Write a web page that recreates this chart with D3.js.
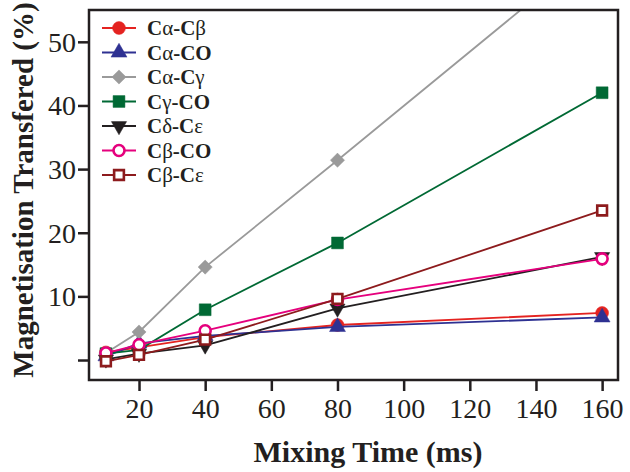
<!DOCTYPE html>
<html>
<head>
<meta charset="utf-8">
<script src="https://cdn.jsdelivr.net/npm/d3@7"></script>
<style>
  body { margin: 0; background: #fff; }
  svg { display: block; font-family: "Liberation Serif", "Times New Roman", serif; }
</style>
</head>
<body>
<svg id="chart"></svg>
<script>
// mixing times (ms)
var mixingTimes = [10, 20, 40, 80, 160];

var seriesNames = ["Cα-Cβ", "Cα-CO", "Cα-Cγ", "Cγ-CO", "Cδ-Cε", "Cβ-CO", "Cβ-Cε"];

// magnetisation transfered (%) per series
var caCb = [1.2, 2.0, 3.6, 5.5, 7.4];
var caCO = [0.6, 2.6, 3.8, 5.2, 6.7];
var caCg = [1.1, 4.4, 14.6, 31.4, 65.5];
var cgCO = [1.0, 1.6, 7.9, 18.4, 42.0];
var cdCe = [0.1, 1.0, 2.3, 8.1, 16.2];
var cbCO = [1.1, 2.4, 4.6, 9.5, 15.9];
var cbCe = [-0.2, 0.8, 3.2, 9.6, 23.5];

var xTicks = [20, 40, 60, 80, 100, 120, 140, 160];
var yTicks = [0, 10, 20, 30, 40, 50];

var colors = ["#e42320", "#2e3192", "#9a9a9a", "#006934", "#231f20", "#e5007d", "#8d1b1d"];
var symbols = ["circle", "triangle", "diamond", "square", "triangleDown", "circleOpen", "squareOpen"];

var width = 630, height = 472;
var margin = { left: 89, right: 12, top: 10, bottom: 92 };

var svg = d3.select("#chart")
    .attr("width", width)
    .attr("height", height);

var x = d3.scaleLinear()
    .domain([4.88, 164.8])
    .range([margin.left, width - margin.right]);

var y = d3.scaleLinear()
    .domain([-3.14, 55.0])
    .range([height - margin.bottom, margin.top]);

var data = [caCb, caCO, caCg, cgCO, cdCe, cbCO, cbCe];

svg.append("clipPath")
    .attr("id", "plotClip")
    .append("rect")
    .attr("x", margin.left)
    .attr("y", margin.top)
    .attr("width", width - margin.right - margin.left)
    .attr("height", height - margin.bottom - margin.top);

function symbolPath(kind)
{
    if (kind == "circle") return d3.symbol(d3.symbolCircle, 130)();
    if (kind == "circleOpen") return d3.symbol(d3.symbolCircle, 95)();
    if (kind == "square") return d3.symbol(d3.symbolSquare, 140)();
    if (kind == "squareOpen") return d3.symbol(d3.symbolSquare, 95)();
    if (kind == "diamond") return d3.symbol(d3.symbolSquare, 100)();
    if (kind == "triangle") return d3.symbol(d3.symbolTriangle, 110)();
    if (kind == "triangleDown") return d3.symbol(d3.symbolTriangle, 100)();
    return d3.symbol(d3.symbolCircle, 100)();
}

function drawMarker(g, kind, color, cx, cy)
{
    var open = kind == "circleOpen" || kind == "squareOpen";
    var rot = kind == "diamond" ? 45 : (kind == "triangleDown" ? 180 : 0);
    g.append("path")
        .attr("d", symbolPath(kind))
        .attr("transform", "translate(" + cx + "," + cy + ") rotate(" + rot + ")")
        .style("fill", open ? "#fff" : color)
        .style("stroke", color)
        .style("stroke-width", open ? 2.6 : 0.5);
}

// Lines and markers
var plot = svg.append("g").attr("clip-path", "url(#plotClip)");
var line = d3.line()
    .x(function(d, i) { return x(mixingTimes[i]); })
    .y(function(d) { return y(d); });

for (var si = 0; si < data.length; si++)
{
    var series = data[si];
    var sg = plot.append("g");
    sg.append("path")
        .attr("d", line(series))
        .attr("fill", "none")
        .attr("stroke", colors[si])
        .attr("stroke-width", 1.8);

    for (var pi = 0; pi < series.length; pi++)
    {
        if (series[pi] > 55) continue;
        drawMarker(sg, symbols[si], colors[si], x(mixingTimes[pi]), y(series[pi]));
    }
}

// Frame
svg.append("rect")
    .attr("x", x.range()[0])
    .attr("y", y.range()[1])
    .attr("width", x.range()[1] - x.range()[0])
    .attr("height", y.range()[0] - y.range()[1])
    .attr("fill", "none")
    .attr("stroke", "#231f20")
    .attr("stroke-width", 2.5);

// Axes
var xMinor = d3.range(10, 161, 10);
var xAxis = svg.append("g")
    .attr("transform", "translate(0," + (height - margin.bottom) + ")");
xAxis.call(d3.axisBottom(x).tickValues(xMinor).tickSize(5).tickFormat(""));
xAxis.call(d3.axisBottom(x).tickValues(xTicks).tickSize(11).tickPadding(6).tickFormat(d3.format("d")));

var yMinor = d3.range(5, 55, 10);
var yAxis = svg.append("g")
    .attr("transform", "translate(" + margin.left + ",0)");
yAxis.call(d3.axisLeft(y).tickValues(yMinor).tickSize(5).tickFormat(""));
yAxis.call(d3.axisLeft(y).tickValues(yTicks).tickSize(11).tickPadding(2)
    .tickFormat(function(d) { return d == 0 ? "" : d; }));

svg.selectAll(".domain").remove();
svg.selectAll(".tick line")
    .attr("stroke", "#231f20")
    .attr("stroke-width", 2.5);
svg.selectAll(".tick text")
    .style("font-family", "'Liberation Serif', serif")
    .style("font-size", "28px")
    .style("fill", "#231f20");
xAxis.selectAll(".tick text").attr("dy", "0.75em");
yAxis.selectAll(".tick text").attr("dy", "0.34em");

// Axis titles
svg.append("text")
    .attr("x", 368)
    .attr("y", 462)
    .attr("text-anchor", "middle")
    .style("font-size", "30px")
    .style("font-weight", "bold")
    .style("fill", "#231f20")
    .text("Mixing Time (ms)");

svg.append("text")
    .attr("transform", "translate(33,190) rotate(-90)")
    .attr("text-anchor", "middle")
    .style("font-size", "29px")
    .style("font-weight", "bold")
    .style("fill", "#231f20")
    .text("Magnetisation Transfered (%)");

// Legend
var legend = svg.append("g");
for (var li = 0; li < seriesNames.length; li++)
{
    var ly = 28 + li * 24.5;
    legend.append("line")
        .attr("x1", 102).attr("x2", 136)
        .attr("y1", ly).attr("y2", ly)
        .attr("stroke", colors[li])
        .attr("stroke-width", 1.8);
    drawMarker(legend, symbols[li], colors[li], 119, ly);

    var t = legend.append("text")
        .attr("x", 147)
        .attr("y", ly + 7)
        .style("font-size", "21px")
        .style("fill", "#231f20");
    var chars = Array.from(seriesNames[li]);
    for (var ci = 0; ci < chars.length; ci++)
    {
        var greek = /[α-ω]/.test(chars[ci]);
        t.append("tspan")
            .style("font-weight", greek ? "normal" : "bold")
            .text(chars[ci]);
    }
}
</script>
</body>
</html>
